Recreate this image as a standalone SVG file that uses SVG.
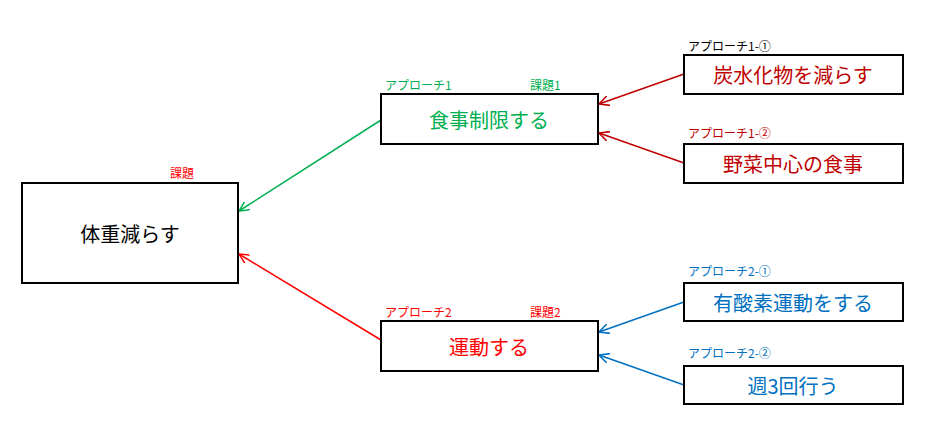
<svg xmlns="http://www.w3.org/2000/svg" width="936" height="422" viewBox="0 0 936 422">
<style>
.b{fill:#fff;stroke:#000;stroke-width:2}
.t{font-family:"Noto Sans CJK JP","Noto Sans",sans-serif;font-size:20px;text-anchor:middle;dominant-baseline:central}
.s{font-family:"Noto Sans CJK JP","Noto Sans",sans-serif;font-size:12px}
.g{fill:#00b050}.r{fill:#ff0000}.d{fill:#c00000}.u{fill:#0070c0}
</style>
<defs>
<marker id="mg" viewBox="0 0 10 10" refX="10" refY="5" markerWidth="10" markerHeight="10" markerUnits="userSpaceOnUse" orient="auto"><path d="M0,0L10,5L0,10" fill="none" stroke="#00b050" stroke-width="1.5"/></marker>
<marker id="mr" viewBox="0 0 10 10" refX="10" refY="5" markerWidth="10" markerHeight="10" markerUnits="userSpaceOnUse" orient="auto"><path d="M0,0L10,5L0,10" fill="none" stroke="#ff0000" stroke-width="1.5"/></marker>
<marker id="md" viewBox="0 0 10 10" refX="10" refY="5" markerWidth="10" markerHeight="10" markerUnits="userSpaceOnUse" orient="auto"><path d="M0,0L10,5L0,10" fill="none" stroke="#c00000" stroke-width="1.5"/></marker>
<marker id="mu" viewBox="0 0 10 10" refX="10" refY="5" markerWidth="10" markerHeight="10" markerUnits="userSpaceOnUse" orient="auto"><path d="M0,0L10,5L0,10" fill="none" stroke="#0070c0" stroke-width="1.5"/></marker>
</defs>
<rect width="936" height="422" fill="#fff"/>
<g id="connectors" stroke-width="1.5" fill="none">
<line x1="381" y1="120" x2="239" y2="211" stroke="#00b050" marker-end="url(#mg)"/>
<line x1="381" y1="340" x2="239" y2="254" stroke="#ff0000" marker-end="url(#mr)"/>
<line x1="684" y1="74" x2="599" y2="104" stroke="#c00000" marker-end="url(#md)"/>
<line x1="684" y1="163" x2="599" y2="133" stroke="#c00000" marker-end="url(#md)"/>
<line x1="684" y1="302" x2="599" y2="332" stroke="#0070c0" marker-end="url(#mu)"/>
<line x1="684" y1="385" x2="599" y2="355" stroke="#0070c0" marker-end="url(#mu)"/>
</g>
<g id="n0"><rect class="b" x="22" y="183" width="216" height="100"/><text class="t" x="130" y="233">体重減らす</text><text class="s r" x="170" y="178">課題</text></g>
<g id="n1"><rect class="b" x="381" y="94" width="217" height="50"/><text class="t g" x="489" y="119">食事制限する</text><text class="s g" x="385" y="90">アプローチ1</text><text class="s g" x="530" y="90">課題1</text></g>
<g id="n2"><rect class="b" x="381" y="321" width="217" height="50"/><text class="t r" x="489" y="346">運動する</text><text class="s r" x="385" y="317">アプローチ2</text><text class="s r" x="530" y="317">課題2</text></g>
<g id="n3"><rect class="b" x="684" y="55" width="219" height="39"/><text class="t d" x="793" y="74">炭水化物を減らす</text><text class="s" x="688" y="51" fill="#000">アプローチ1-①</text></g>
<g id="n4"><rect class="b" x="684" y="144" width="219" height="39"/><text class="t d" x="793" y="163">野菜中心の食事</text><text class="s d" x="688" y="138">アプローチ1-②</text></g>
<g id="n5"><rect class="b" x="684" y="283" width="219" height="38"/><text class="t u" x="793" y="302">有酸素運動をする</text><text class="s u" x="688" y="276">アプローチ2-①</text></g>
<g id="n6"><rect class="b" x="684" y="366" width="219" height="38"/><text class="t u" x="793" y="385">週3回行う</text><text class="s u" x="688" y="358">アプローチ2-②</text></g>
</svg>
